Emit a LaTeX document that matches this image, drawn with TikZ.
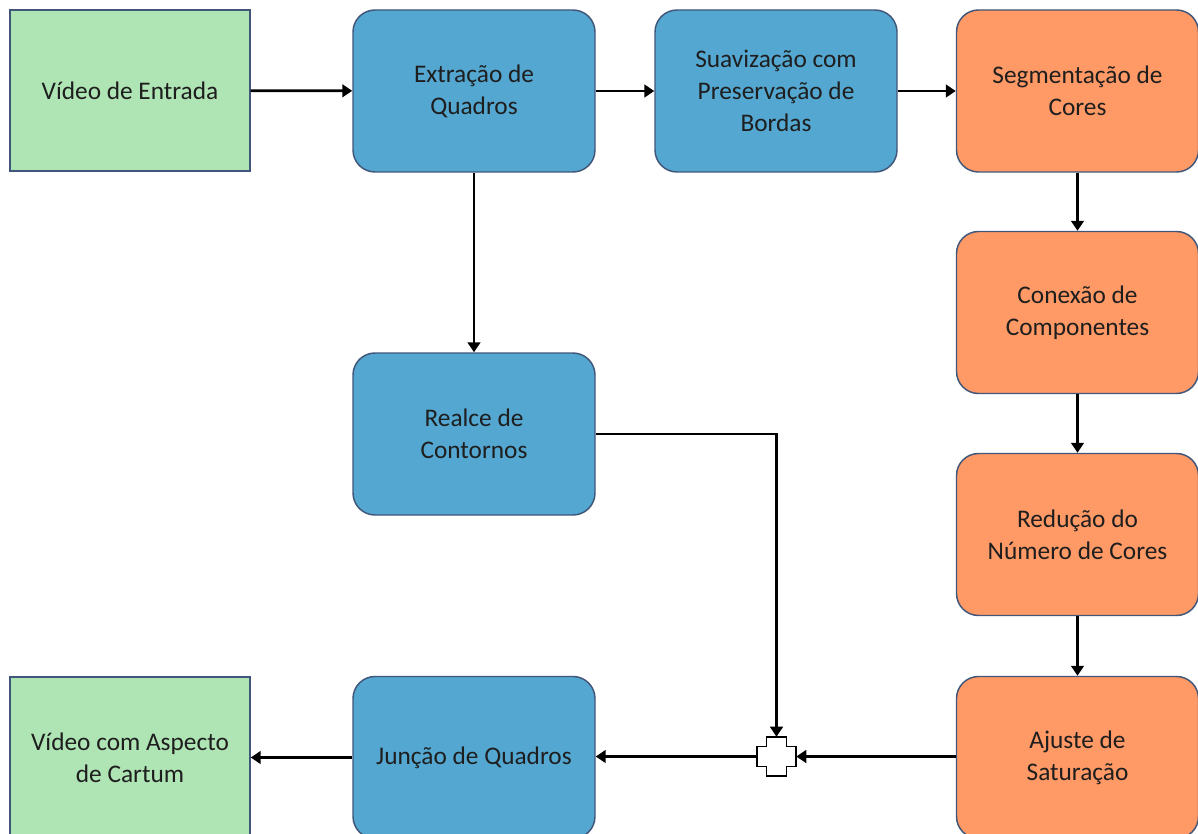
\documentclass[tikz,border=0pt]{standalone}
\usepackage{fontspec}
\setmainfont{Carlito}
\usetikzlibrary{arrows.meta,calc}
\definecolor{boxgreen}{HTML}{AFE4B4}
\definecolor{boxblue}{HTML}{54A7D0}
\definecolor{boxorange}{HTML}{FF9966}
\definecolor{boxborder}{HTML}{41577A}
\definecolor{txt}{HTML}{1E1E1E}
\tikzset{
  base/.style={draw=boxborder, line width=1.1pt, minimum width=181.5pt, minimum height=121.5pt,
    inner sep=0pt, align=center, text=txt, font=\fontsize{19pt}{24pt}\selectfont},
  sqbox/.style={base, fill=boxgreen, minimum width=180pt, minimum height=120.75pt},
  bluebox/.style={base, fill=boxblue, rounded corners=16.5pt},
  orangebox/.style={base, fill=boxorange, rounded corners=16.5pt},
  conn/.style={line width=2pt, -{Triangle[length=7.5pt,width=9.5pt]}},
}
\begin{document}
\begin{tikzpicture}[x=0.75pt,y=-0.75pt]
\useasboundingbox (0,0) rectangle (1198,834);
\clip (0,0) rectangle (1198,834);
\fill[white] (0,0) rectangle (1198,834);
\node[sqbox] (ve) at (130,90.5) {Vídeo de Entrada};
\node[bluebox] (eq) at (474,91) {Extração de\\Quadros};
\node[bluebox] (sp) at (776,91) {Suavização com\\Preservação de\\Bordas};
\node[orangebox] (sc) at (1077.5,91) {Segmentação de\\Cores};
\node[orangebox] (cc) at (1077.5,312.5) {Conexão de\\Componentes};
\node[orangebox] (rn) at (1077.5,534.5) {Redução do\\Número de Cores};
\node[orangebox] (as) at (1077.5,757.5) {Ajuste de\\Saturação};
\node[bluebox] (rc) at (474,434) {Realce de\\Contornos};
\node[bluebox] (jq) at (474,757.5) {Junção de Quadros};
\node[sqbox] (vc) at (130,757.5) {Vídeo com Aspecto\\de Cartum};
\node[minimum width=29.25pt, minimum height=29.25pt, inner sep=0pt] (j) at (776.5,756.5) {};
\draw[line width=1.1pt, fill=white, line join=miter]
  ($(j.center)+(-10,-19.5)$) -- ++(20,0) -- ++(0,9.5) -- ++(9.5,0) -- ++(0,20)
  -- ++(-9.5,0) -- ++(0,9.5) -- ++(-20,0) -- ++(0,-9.5) -- ++(-9.5,0) -- ++(0,-20)
  -- ++(9.5,0) -- cycle;
\draw[conn] (ve) -- (eq);
\draw[conn] (eq) -- (sp);
\draw[conn] (sp) -- (sc);
\draw[conn] (eq) -- (rc);
\draw[conn] (sc) -- (cc);
\draw[conn] (cc) -- (rn);
\draw[conn] (rn) -- (as);
\draw[conn] (as.west |- j.east) -- (j.east);
\draw[conn] (rc.east) -| (j.north);
\draw[conn] (j.west) -- (jq.east |- j.west);
\draw[conn] (jq) -- (vc);
\end{tikzpicture}
\end{document}
